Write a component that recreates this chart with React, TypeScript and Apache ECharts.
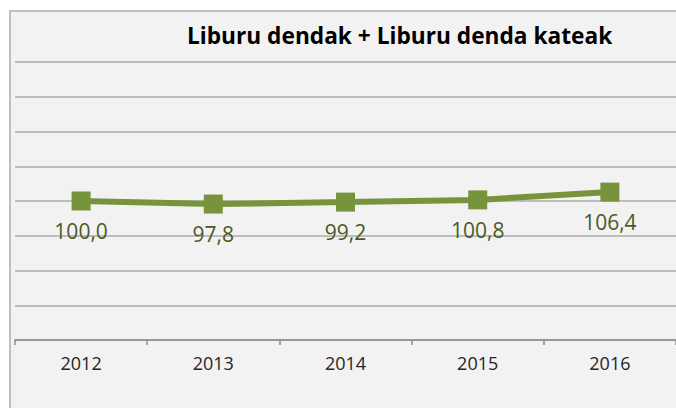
import React, { useEffect, useRef } from "react";
import * as echarts from "echarts";

const titleText = "Liburu dendak + Liburu denda kateak";
const years = ["2012", "2013", "2014", "2015", "2016"];
const values = [100.0, 97.8, 99.2, 100.8, 106.4];

export default function App() {
  const ref = useRef<HTMLDivElement>(null);
  useEffect(() => {
    if (!ref.current) return;
    const chart = echarts.init(ref.current, null, { renderer: "svg" });
    chart.setOption({
      animation: false,
      backgroundColor: "#ffffff",
      graphic: [
        {
          type: "rect",
          z: -10,
          silent: true,
          shape: { x: 10, y: 11, width: 700, height: 420 },
          style: { fill: "#F2F2F2", stroke: "#BFBFBF", lineWidth: 2 },
        },
        {
          type: "text",
          x: 187,
          y: 35,
          style: {
            text: titleText,
            fontFamily: "Open Sans",
            fontWeight: "bold",
            fontSize: 22.7,
            fill: "#000000",
            verticalAlign: "middle",
            align: "left",
          },
        },
      ],
      grid: { left: 15, top: 62, width: 665, height: 278 },
      xAxis: {
        type: "category",
        data: years,
        boundaryGap: true,
        axisLine: { lineStyle: { color: "#8C8C8C", width: 1.5 } },
        axisTick: { show: true, length: 5, lineStyle: { color: "#8C8C8C", width: 1.5 } },
        axisLabel: {
          color: "#262626",
          fontFamily: "Open Sans",
          fontSize: 18,
          margin: 14,
        },
      },
      yAxis: {
        type: "value",
        min: 0,
        max: 200,
        interval: 25,
        axisLine: { show: false },
        axisTick: { show: false },
        axisLabel: { show: false },
        splitLine: { lineStyle: { color: "#ABABAB", width: 1.5 } },
      },
      series: [
        {
          type: "line",
          data: values,
          symbol: "rect",
          symbolSize: 19,
          lineStyle: { color: "#77933C", width: 6 },
          itemStyle: { color: "#77933C" },
          label: {
            show: true,
            position: "bottom",
            distance: 10,
            color: "#4A5A1F",
            fontFamily: "Open Sans",
            fontSize: 21,
            formatter: (p: any) => Number(p.value).toFixed(1).replace(".", ","),
          },
        },
      ],
    });
    return () => chart.dispose();
  }, []);
  return (
    <div
      ref={ref}
      style={{ position: "fixed", left: 0, top: 0, width: 676, height: 408 }}
    />
  );
}
